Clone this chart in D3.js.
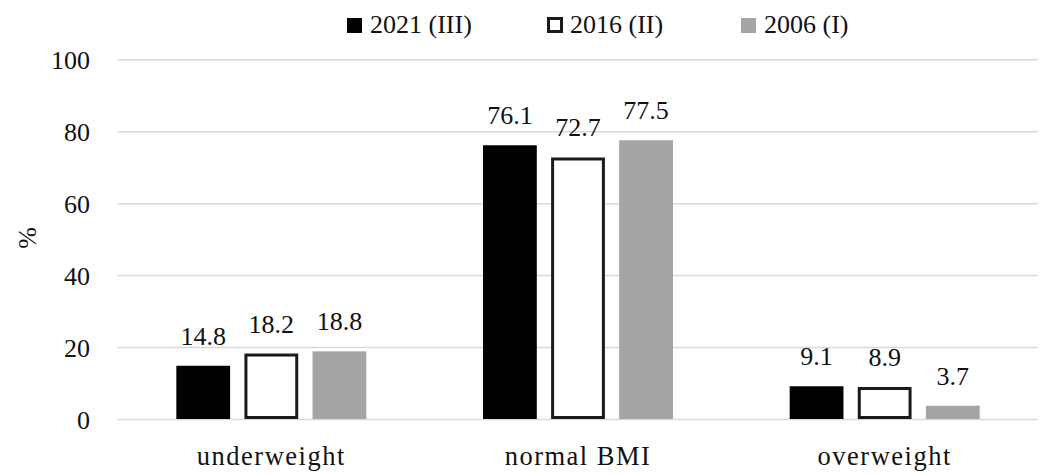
<!DOCTYPE html>
<html>
<head>
<meta charset="utf-8">
<script src="https://cdn.jsdelivr.net/npm/d3@7"></script>
<style>
  html, body { margin: 0; padding: 0; background: #fff; }
  svg { display: block; }
  svg text { font-family: "Liberation Serif", "DejaVu Serif", serif; fill: #111; }
</style>
</head>
<body>
<svg id="chart" width="1045" height="475"></svg>
<script>
// BMI categories and the share (%) of each survey wave
const categories = ["underweight", "normal BMI", "overweight"];
const seriesNames = ["2021 (III)", "2016 (II)", "2006 (I)"];
const values2021 = [14.8, 76.1, 9.1];
const values2016 = [18.2, 72.7, 8.9];
const values2006 = [18.8, 77.5, 3.7];
const yTicks = [0, 20, 40, 60, 80, 100];
const yLabel = "%";

const seriesValues = [values2021, values2016, values2006];
const seriesStyle = [
  { fill: "#000000", stroke: "none", sw: 0 },
  { fill: "#ffffff", stroke: "#1a1a1a", sw: 3 },
  { fill: "#a5a5a5", stroke: "none", sw: 0 }
];

const svg = d3.select("#chart");
const plot = { left: 118, right: 1038, top: 59.3, bottom: 419 };

const y = d3.scaleLinear().domain([0, 100]).range([plot.bottom, plot.top]);
const x0 = d3.scaleBand().domain(categories).range([plot.left, plot.right]).padding(0);
const groupW = 190;
const x1 = d3.scaleBand()
  .domain(seriesNames)
  .range([(x0.bandwidth() - groupW) / 2, (x0.bandwidth() + groupW) / 2])
  .paddingInner(0.21).paddingOuter(0);

// horizontal gridlines and tick labels
const yAxis = d3.axisLeft(y).tickValues(yTicks).tickSize(-(plot.right - plot.left)).tickFormat(d3.format("d"));
const gAxis = svg.append("g").attr("transform", `translate(${plot.left},0)`).call(yAxis);
gAxis.attr("font-family", null).attr("font-size", null);
gAxis.select(".domain").remove();
gAxis.selectAll(".tick line").attr("stroke", "#d9d9d9").attr("stroke-width", 1.5);
gAxis.selectAll(".tick text")
  .attr("x", -28).attr("dy", "0.35em")
  .style("font-size", "26px");

// y-axis title
svg.append("text")
  .attr("transform", "translate(36,238) rotate(-90)")
  .attr("text-anchor", "middle")
  .style("font-size", "26px")
  .text(yLabel);

// bars with value labels
const groups = svg.append("g").selectAll("g")
  .data(categories)
  .join("g")
  .attr("transform", d => `translate(${x0(d)},0)`);

seriesNames.forEach((name, si) => {
  const st = seriesStyle[si];
  const half = st.sw / 2;
  groups.append("rect")
    .attr("x", x1(name) + half)
    .attr("width", x1.bandwidth() - st.sw)
    .attr("y", (d, ci) => y(seriesValues[si][ci]) + half)
    .attr("height", (d, ci) => Math.max(0, y(0) - y(seriesValues[si][ci]) - st.sw))
    .attr("fill", st.fill)
    .attr("stroke", st.stroke)
    .attr("stroke-width", st.sw);

  groups.append("text")
    .attr("x", x1(name) + x1.bandwidth() / 2)
    .attr("y", (d, ci) => y(seriesValues[si][ci]) - 21)
    .attr("text-anchor", "middle")
    .style("font-size", "26px")
    .text((d, ci) => seriesValues[si][ci].toFixed(1));
});

// category labels
svg.append("g").selectAll("text")
  .data(categories)
  .join("text")
  .attr("x", d => x0(d) + x0.bandwidth() / 2)
  .attr("y", 465)
  .attr("text-anchor", "middle")
  .style("font-size", "26.5px")
  .style("letter-spacing", "1.5px")
  .text(d => d);

// legend
const legendX = [347, 547, 741];
const legend = svg.append("g").selectAll("g")
  .data(seriesNames)
  .join("g")
  .attr("transform", (d, i) => `translate(${legendX[i]},0)`);
legend.append("rect")
  .attr("x", (d, i) => seriesStyle[i].sw / 2)
  .attr("y", (d, i) => 18 + seriesStyle[i].sw / 2 - (i === 1 ? 1 : 0))
  .attr("width", (d, i) => (i === 1 ? 16 : 15) - seriesStyle[i].sw)
  .attr("height", (d, i) => (i === 1 ? 16 : 15) - seriesStyle[i].sw)
  .attr("fill", (d, i) => seriesStyle[i].fill)
  .attr("stroke", (d, i) => seriesStyle[i].stroke)
  .attr("stroke-width", (d, i) => seriesStyle[i].sw);
legend.append("text")
  .attr("x", 23)
  .attr("y", 33)
  .style("font-size", "26px")
  .text(d => d);
</script>
</body>
</html>
